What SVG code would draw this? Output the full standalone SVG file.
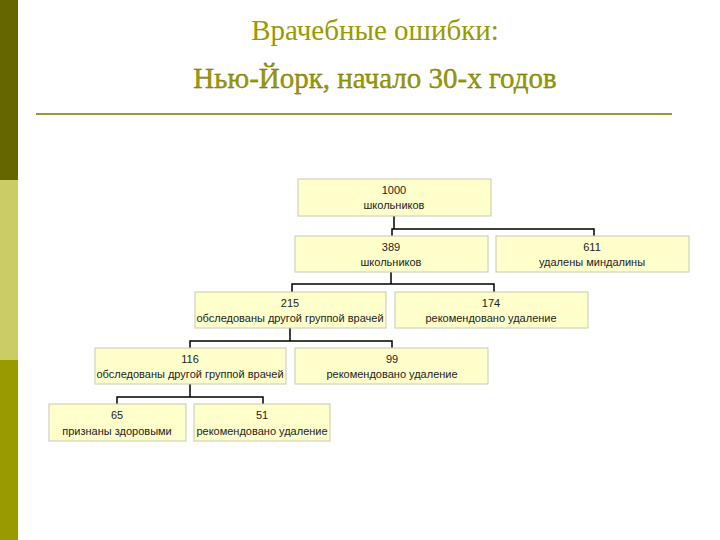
<svg xmlns="http://www.w3.org/2000/svg" width="720" height="540" viewBox="0 0 720 540">
<style>
.b{fill:#ffffcc;stroke:#c8c8b0;stroke-width:1}
.t{font-family:"Liberation Sans",Arial,sans-serif;font-size:11px;fill:#222;text-anchor:middle}
.h{font-family:"Liberation Serif","Times New Roman",serif;font-size:29px;fill:#999900;text-anchor:middle}
.c{fill:none;stroke:#000;stroke-width:1.5}
</style>
<rect width="720" height="540" fill="#fff"/>
<rect x="0" y="0" width="18" height="180" fill="#666600"/>
<rect x="0" y="180" width="18" height="180" fill="#cccc66"/>
<rect x="0" y="360" width="18" height="180" fill="#999900"/>
<text class="h" x="375" y="40">Врачебные ошибки:</text>
<text class="h" x="375" y="88" stroke="#666600" stroke-width="0.3">Нью-Йорк, начало 30-х годов</text>
<line x1="36" y1="114" x2="672" y2="114" stroke="#999933" stroke-width="2"/>
<g id="connectors">
<path class="c" d="M394 216V229M392 236V229H594V236"/>
<path class="c" d="M391 272V284M292 292V284H494V292"/>
<path class="c" d="M290 328V341M190 348V341H392V348" stroke-width="1"/>
<path class="c" d="M190 384V397M117 404V397H263V404"/>
</g>
<g id="n1000"><rect class="b" x="298" y="179" width="193" height="37"/><text class="t" x="394" y="194">1000</text><text class="t" x="394" y="209">школьников</text></g>
<g id="n389"><rect class="b" x="295" y="236" width="193" height="36"/><text class="t" x="391" y="251">389</text><text class="t" x="391" y="266">школьников</text></g>
<g id="n611"><rect class="b" x="496" y="236" width="193" height="36"/><text class="t" x="592" y="251">611</text><text class="t" x="592" y="266">удалены миндалины</text></g>
<g id="n215"><rect class="b" x="195" y="292" width="191" height="36"/><text class="t" x="290" y="307">215</text><text class="t" x="290" y="322">обследованы другой группой врачей</text></g>
<g id="n174"><rect class="b" x="395" y="292" width="193" height="36"/><text class="t" x="491" y="307">174</text><text class="t" x="491" y="322">рекомендовано удаление</text></g>
<g id="n116"><rect class="b" x="95" y="348" width="191" height="36"/><text class="t" x="190" y="363">116</text><text class="t" x="190" y="378">обследованы другой группой врачей</text></g>
<g id="n99"><rect class="b" x="295" y="348" width="193" height="36"/><text class="t" x="392" y="363">99</text><text class="t" x="392" y="378">рекомендовано удаление</text></g>
<g id="n65"><rect class="b" x="49" y="404" width="137" height="37"/><text class="t" x="117" y="419">65</text><text class="t" x="117" y="435">признаны здоровыми</text></g>
<g id="n51"><rect class="b" x="194" y="404" width="136" height="37"/><text class="t" x="262" y="419">51</text><text class="t" x="262" y="435">рекомендовано удаление</text></g>
</svg>
